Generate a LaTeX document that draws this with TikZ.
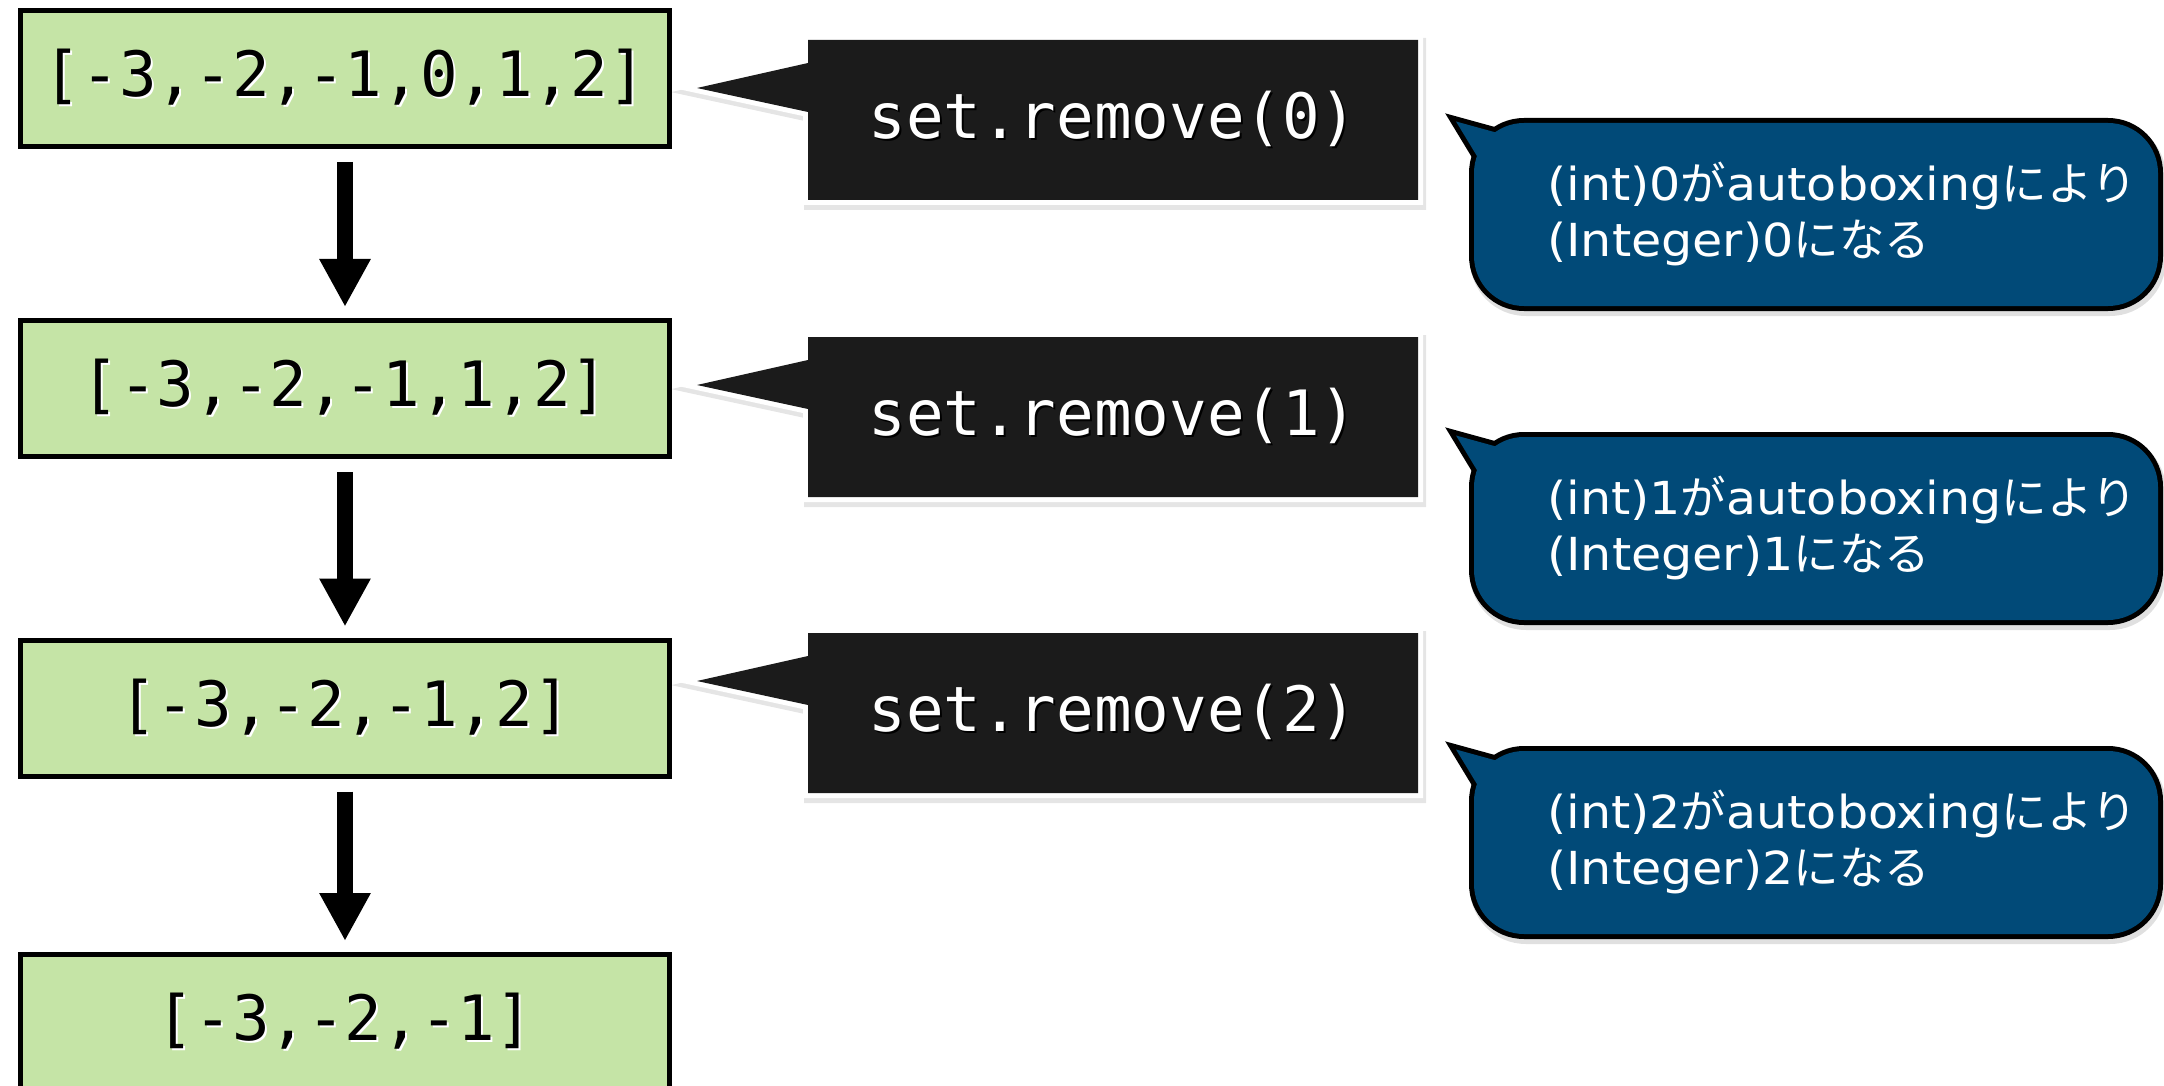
\documentclass[tikz,border=0pt]{standalone}
\usepackage{fontspec}
\usetikzlibrary{arrows.meta}
\newfontfamily\codefont{DejaVu Sans Mono}
\newfontfamily\notelatin[FakeStretch=1.08]{DejaVu Sans}
\newfontfamily\notejp{Noto Sans CJK JP}
\definecolor{listgreen}{RGB}{197,228,166}
\definecolor{noteblue}{RGB}{1,74,120}
\definecolor{cmdblack}{RGB}{27,27,27}
% Japanese run inside the Latin note text
\newcommand\jp[1]{{\notejp #1}}
% text with a soft offset copy behind it
\newcommand\glowtext[1]{\rlap{\hspace{2pt}\raisebox{-2pt}{\color{white}#1}}#1}
\newcommand\shadetext[1]{\rlap{\hspace{2pt}\raisebox{-2pt}{\color{black}#1}}#1}

\begin{document}
\begin{tikzpicture}[x=1pt, y=-1pt,
  listbox/.style={draw=black, line width=5pt, fill=listgreen,
    minimum width=649pt, minimum height=136pt, inner sep=0pt,
    font=\codefont\fontsize{62.5}{70}\selectfont},
  flowarrow/.style={line width=16pt, -{Triangle[width=48pt,length=48pt]}},
  cmdtext/.style={text=white, inner sep=0pt,
    font=\codefont\fontsize{62.5}{70}\selectfont},
  notetext/.style={text=white, inner sep=0pt, align=left, anchor=west,
    font=\notelatin\fontsize{45.5}{56}\selectfont},
  % speech bubble with a pointer to the left, top edge at #1
  cmdshape/.style={insert path={(808,#1) -- (1418,#1) -- (1418,#1+160)
    -- (808,#1+160) -- (808,#1+72) -- (697,#1+48) -- (808,#1+23) -- cycle}},
  % rounded note body and its pointer, outer top edge at #1
  notebody/.style={insert path={(1474,#1+5) rectangle (2158,#1+188)}},
  notetip/.style={insert path={(1456,#1+3.5) -- (1536,#1+25.5)
    -- (1496,#1+69.5) -- cycle}},
]
\clip (0,0) rectangle (2164,1086);
\fill[white] (0,0) rectangle (2164,1086);

% list states
\node[listbox] (L1) at (345,78.5)  {\glowtext{[-3,-2,-1,0,1,2]}};
\node[listbox] (L2) at (345,388.5) {\glowtext{[-3,-2,-1,1,2]}};
\node[listbox] (L3) at (345,708)   {\glowtext{[-3,-2,-1,2]}};
\node[listbox] (L4) at (345,1022.5){\glowtext{[-3,-2,-1]}};

\draw[flowarrow] ([yshift=-13pt]L1.south) -- ([yshift=11pt]L2.north);
\draw[flowarrow] ([yshift=-13pt]L2.south) -- ([yshift=11pt]L3.north);
\draw[flowarrow] ([yshift=-13pt]L3.south) -- ([yshift=11pt]L4.north);

% method calls
\foreach \ty/\k in {40/0, 337/1, 633/2} {
  \draw[black, opacity=0.10, line width=12pt, line join=miter,
        shift={(2,4)}, cmdshape=\ty];
  \draw[white, line width=10pt, line join=miter, cmdshape=\ty];
  \fill[cmdblack, cmdshape=\ty];
  \node[cmdtext] (C\k) at (1113,\ty+80) {\shadetext{set.remove(\k)}};
}

% explanations
\foreach \ty/\k in {118/0, 432/1, 746/2} {
  \draw[black, opacity=0.12, line width=12pt, rounded corners=50pt,
        shift={(2,4)}, notebody=\ty];
  \draw[black, line width=10pt, rounded corners=50pt, notebody=\ty];
  \draw[black, line width=10pt, line join=miter, notetip=\ty];
  \fill[noteblue, rounded corners=50pt, notebody=\ty];
  \fill[noteblue, notetip=\ty];
  \node[notetext] (N\k) at (1547,\ty+96)
    {(int)\k\jp{が}autoboxing\jp{により}\\(Integer)\k\jp{になる}};
}
\end{tikzpicture}
\end{document}
